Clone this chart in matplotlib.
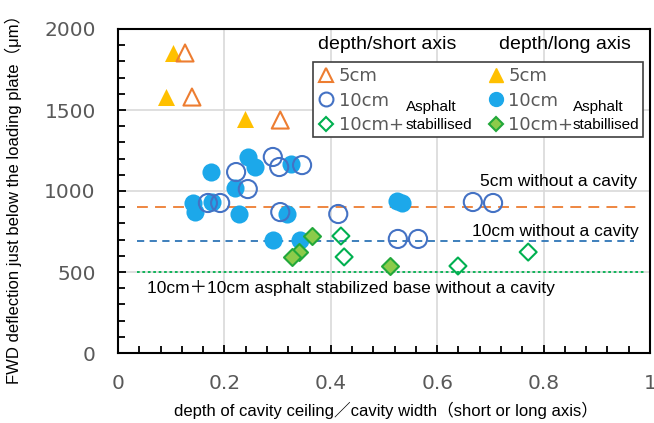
import matplotlib
matplotlib.use("Agg")
import matplotlib.pyplot as plt
from matplotlib.ticker import MultipleLocator
from matplotlib.lines import Line2D
from matplotlib.patches import Rectangle

plt.rcParams['font.family'] = ['Liberation Sans', 'Noto Sans CJK JP']

# depth / short axis (open markers)
short_5_x = [0.126, 0.139, 0.305]
short_5_y = [1852, 1580, 1438]
short_10_x = [0.222, 0.244, 0.291, 0.303, 0.346, 0.192, 0.169, 0.305, 0.414,
              0.526, 0.564, 0.667, 0.705]
short_10_y = [1117, 1012, 1210, 1148, 1160, 926, 926, 870, 858,
              704, 704, 932, 926]
short_as_x = [0.419, 0.425, 0.639, 0.771]
short_as_y = [722, 593, 537, 623]

# depth / long axis (filled markers)
long_5_x = [0.103, 0.090, 0.239]
long_5_y = [1852, 1580, 1444]
long_10_x = [0.175, 0.244, 0.258, 0.220, 0.325, 0.141, 0.145, 0.177, 0.227,
             0.318, 0.291, 0.342, 0.524, 0.534]
long_10_y = [1117, 1210, 1148, 1019, 1167, 926, 870, 932, 858,
             858, 698, 698, 938, 926]
long_as_x = [0.365, 0.340, 0.327, 0.511]
long_as_y = [722, 623, 593, 537]

# reference levels without a cavity
ref_5cm = 900
ref_10cm = 690
ref_as = 500

GRAY = '#595959'
TICKFONT = dict(family='DejaVu Sans', size=14.5)

fig = plt.figure(figsize=(6.54, 4.23), dpi=100)
ax = fig.add_axes([118/654, 1-353/423, 532/654, 324/423])

ax.hlines(ref_5cm, 0.035, 0.98, colors='#ED7D31', linestyles=(0, (6, 4)), lw=1.3, zorder=2)
ax.hlines(ref_10cm, 0.035, 0.97, colors='#2E75B6', linestyles=(0, (4, 3)), lw=1.3, zorder=2)
ax.hlines(ref_as, 0.035, 0.99, colors='#00B050', linestyles=(0, (1.5, 1.5)), lw=1.3, zorder=2)

ax.scatter(long_5_x, long_5_y, marker='^', s=150, c='#FFC000', lw=0, zorder=3)
ax.scatter(short_5_x, short_5_y, marker='^', s=150, facecolors='none',
           edgecolors='#ED7D31', lw=1.5, zorder=3)
ax.scatter(long_10_x, long_10_y, marker='o', s=170, c='#1CA8EA', lw=0, zorder=3)
ax.scatter(short_10_x, short_10_y, marker='o', s=170, facecolors='none',
           edgecolors='#4472C4', lw=1.5, zorder=4)
ax.scatter(long_as_x, long_as_y, marker='D', s=75, c='#8CCB4A',
           edgecolors='#22A83A', lw=1.5, zorder=5)
ax.scatter(short_as_x, short_as_y, marker='D', s=75, facecolors='none',
           edgecolors='#00B050', lw=1.5, zorder=5)

ax.set_xlim(0, 1)
ax.set_ylim(0, 2000)
ax.xaxis.set_major_locator(MultipleLocator(0.2))
ax.xaxis.set_minor_locator(MultipleLocator(0.04))
ax.yaxis.set_major_locator(MultipleLocator(500))
ax.yaxis.set_minor_locator(MultipleLocator(100))
ax.xaxis.set_major_formatter(plt.FuncFormatter(lambda v, p: f"{v:g}"))
ax.grid(True, which='major', color='#D9D9D9', lw=1.2, zorder=0)
ax.set_axisbelow(True)
ax.tick_params(which='both', direction='in', top=False, right=False,
               color='black', width=1.3)
ax.tick_params(which='major', length=6, labelcolor=GRAY)
ax.tick_params(which='minor', length=5)
ax.tick_params(axis='x', which='major', pad=15)
ax.tick_params(axis='y', which='major', pad=16)
for lab in ax.get_xticklabels() + ax.get_yticklabels():
    lab.set_fontproperties(TICKFONT)
for sp in ax.spines.values():
    sp.set_linewidth(1.5)

ax.set_xlabel("depth of cavity ceiling／cavity width（short or long axis）", fontsize=12)
ax.set_ylabel("FWD deflection just below the loading plate（μm）", fontsize=12)
ax.xaxis.set_label_coords(0.504, -0.150)
ax.yaxis.set_label_coords(-0.180, 0.485)

ax.text(0.976, 1056, "5cm without a cavity", ha='right', va='center', fontsize=12.5)
ax.text(0.978, 747, "10cm without a cavity", ha='right', va='center', fontsize=12.5)
ax.text(0.055, 401, "10cm＋10cm asphalt stabilized base without a cavity",
        ha='left', va='center', fontsize=12.5)

# legend (frame drawn separately so it can cover the "Asphalt stabillised" notes)
handles = [
    Line2D([], [], ls='none', marker='^', ms=10, mfc='none', mec='#ED7D31', mew=1.5),
    Line2D([], [], ls='none', marker='o', ms=10, mfc='none', mec='#4472C4', mew=1.5),
    Line2D([], [], ls='none', marker='D', ms=7, mfc='none', mec='#00B050', mew=1.5),
    Line2D([], [], ls='none', marker='^', ms=10, mfc='#FFC000', mec='#FFC000'),
    Line2D([], [], ls='none', marker='o', ms=10, mfc='#1CA8EA', mec='#1CA8EA'),
    Line2D([], [], ls='none', marker='D', ms=7, mfc='#8CCB4A', mec='#22A83A', mew=1.5),
]
labels = ["5cm", "10cm", "10cm+", "5cm", "10cm", "10cm+"]
leg = ax.legend(handles, labels, ncol=2, loc='upper left',
                bbox_to_anchor=(0.367, 0.898),
                prop=dict(family='DejaVu Sans', size=13), labelcolor=GRAY,
                handlelength=0.8, handletextpad=0.3, columnspacing=4.7,
                labelspacing=0.35, borderpad=0.3, borderaxespad=0,
                frameon=False)
leg.set_zorder(11)
ax.add_patch(Rectangle((0.367, 0.668), 0.619, 0.230, transform=ax.transAxes,
                       facecolor='white', edgecolor='#404040', lw=1.2, zorder=10))

ax.text(0.376, 0.951, "depth/short axis", transform=ax.transAxes, fontsize=14,
        ha='left', va='center')
ax.text(0.716, 0.951, "depth/long axis", transform=ax.transAxes, fontsize=14,
        ha='left', va='center')
for xa in [0.541, 0.855]:
    ax.text(xa, 0.759, "Asphalt", transform=ax.transAxes, fontsize=11, ha='left',
            va='center', zorder=12)
    ax.text(xa, 0.704, "stabillised", transform=ax.transAxes, fontsize=11, ha='left',
            va='center', zorder=12)

fig.savefig("out.png", dpi=100)
